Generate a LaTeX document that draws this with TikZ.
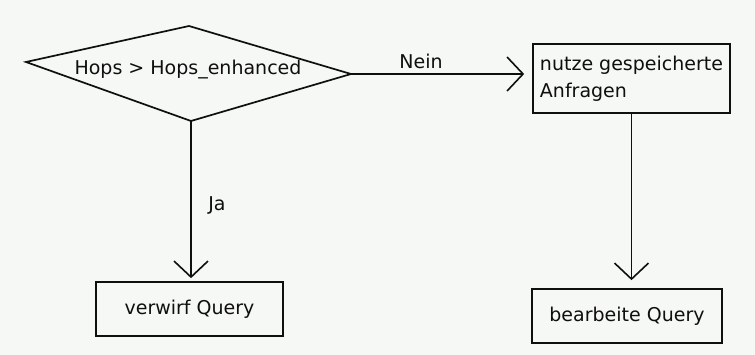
\documentclass[tikz,border=0pt]{standalone}
\usepackage{fontspec}
\setmainfont{DejaVu Sans}
\usetikzlibrary{arrows.meta}
\definecolor{bgc}{RGB}{245,248,244}
\definecolor{ink}{RGB}{15,15,15}
\tikzset{
  lbl/.style={font=\fontsize{19}{27}\selectfont, text=ink, inner sep=0pt},
  boxnode/.style={draw=ink, line width=1.7pt, fill=bgc, font=\fontsize{19}{27}\selectfont, text=ink, inner sep=0pt},
  arr/.style={draw=ink, line width=1.6pt, -{Straight Barb[length=16pt,width=34pt,line width=1.6pt]}},
  shape line/.style={draw=ink, line width=1.7pt, line join=miter}
}
\begin{document}
\begin{tikzpicture}[x=1pt,y=-1pt]
\fill[bgc] (0,0) rectangle (755,355);
\useasboundingbox (0,0) rectangle (755,355);
% decision diamond
\coordinate (dtop) at (189,26);
\coordinate (dleft) at (26,62);
\coordinate (dright) at (351,74);
\coordinate (dbot) at (191,121);
\draw[shape line] (dtop) -- (dright) -- (dbot) -- (dleft) -- cycle;
\node[lbl] (cond) at (188,70) {Hops > Hops\_enhanced};
% boxes
\node[boxnode, minimum width=197pt, minimum height=69pt, align=left, inner xsep=6pt] (nutze) at (631.5,78.5) {nutze gespeicherte\\Anfragen};
\node[boxnode, minimum width=187pt, minimum height=54pt] (verwirf) at (189.5,309) {verwirf Query};
\node[boxnode, minimum width=190pt, minimum height=54pt] (bearb) at (627,316) {bearbeite Query};
% connectors
\draw[arr, shorten >=8pt] (dright) -- (dright -| nutze.west);
\draw[arr, shorten >=3pt] (dbot) -- (dbot |- verwirf.north);
\draw[arr, shorten >=8pt] (nutze.south) -- (nutze.south |- bearb.north);
% labels
\node[lbl] (nein) at (421,61) {Nein};
\node[lbl] (ja) at (217,205) {Ja};
\end{tikzpicture}
\end{document}
